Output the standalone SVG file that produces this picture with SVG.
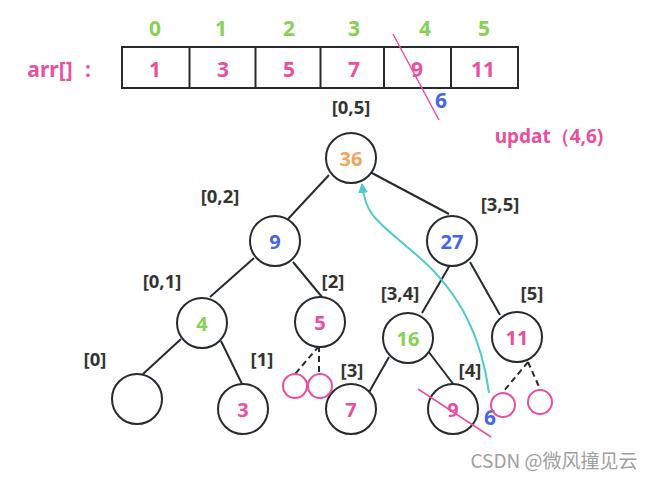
<svg xmlns="http://www.w3.org/2000/svg" width="653" height="478" viewBox="0 0 653 478">
<defs>
<style>
text{font-family:"Noto Sans","Open Sans","DejaVu Sans",sans-serif;font-weight:bold;text-anchor:middle}
.a{font-size:21px}
.n{font-size:20px}
.lb{font-size:18.5px;fill:#333}
.pk{fill:#E8509E}.gr{fill:#86D251}.bl{fill:#4565E6}.or{fill:#F2A35E}
.c{fill:#fff;stroke:#262B30;stroke-width:2}
.sc{fill:none;stroke:#E8509E;stroke-width:2}
.e{stroke:#262B30;stroke-width:2;fill:none}
.d{stroke:#262B30;stroke-width:2;fill:none;stroke-dasharray:6 4}
</style>
<marker id="ah" markerWidth="10" markerHeight="10" refX="9" refY="5" orient="auto" markerUnits="userSpaceOnUse">
<path d="M0,0 L10,5 L0,10 Z" fill="#4ECBCC"/>
</marker>
</defs>
<rect width="653" height="478" fill="#fff"/>
<g id="array">
<text class="a pk" x="50" y="77">arr[]</text>
<text class="a pk" x="88" y="77">:</text>
<g class="a gr">
<text x="155" y="36">0</text><text x="221" y="36">1</text><text x="289" y="36">2</text><text x="354" y="36">3</text><text x="425" y="36">4</text><text x="484" y="36">5</text>
</g>
<rect x="122" y="47" width="396" height="41" fill="none" stroke="#262B30" stroke-width="2"/>
<path class="e" d="M189.5 47V88M255.5 47V88M320.5 47V88M384 47V88M451 47V88"/>
<g class="a pk">
<text x="155" y="77">1</text><text x="223" y="77">3</text><text x="289" y="77">5</text><text x="354" y="77">7</text><text x="417" y="77">9</text><text x="483" y="77">11</text>
</g>
<line x1="393" y1="34" x2="439" y2="120" stroke="#E8509E" stroke-width="1.5"/>
<text class="a bl" x="441" y="108">6</text>
</g>
<text class="lb" x="351" y="114">[0,5]</text>
<text class="pk" style="font-size:19px" x="549" y="143">updat（4,6)</text>
<g id="connectors">
<line class="e" x1="329" y1="175" x2="288" y2="219"/>
<line class="e" x1="370" y1="172" x2="449" y2="214"/>
<line class="e" x1="254" y1="258" x2="210" y2="297"/>
<line class="e" x1="293" y1="262" x2="322" y2="297"/>
<line class="e" x1="450" y1="265" x2="422" y2="313"/>
<line class="e" x1="470" y1="262" x2="500" y2="315"/>
<line class="e" x1="181" y1="339" x2="143" y2="374"/>
<line class="e" x1="221" y1="341" x2="242" y2="384"/>
<line class="e" x1="389" y1="357" x2="368" y2="394"/>
<line class="e" x1="428" y1="351" x2="454" y2="385"/>
<path class="d" d="M319 346L295 374M319 346V374"/>
<path class="d" d="M528 362L503 392M528 362L540 389"/>
<path d="M489 393C482 340 462 295 420 258S366 218 362 184" fill="none" stroke="#4ECBCC" stroke-width="2" marker-end="url(#ah)"/>
</g>
<g id="n36"><circle class="c" cx="351" cy="158" r="25"/><text class="n or" x="351" y="166">36</text></g>
<g id="n9"><circle class="c" cx="275" cy="241" r="25"/><text class="n bl" x="275" y="249">9</text></g>
<g id="n27"><circle class="c" cx="452" cy="241" r="25"/><text class="n bl" x="452" y="249">27</text></g>
<g id="n4"><circle class="c" cx="202" cy="323" r="25"/><text class="n gr" x="202" y="331">4</text></g>
<g id="n5"><circle class="c" cx="320" cy="322" r="25"/><text class="n pk" x="320" y="330">5</text></g>
<g id="n16"><circle class="c" cx="408" cy="338" r="25"/><text class="n gr" x="408" y="346">16</text></g>
<g id="n11"><circle class="c" cx="517" cy="337" r="25"/><text class="n pk" x="517" y="345">11</text></g>
<g id="n0"><circle class="c" cx="137" cy="399" r="25"/></g>
<g id="n3"><circle class="c" cx="243" cy="409" r="25"/><text class="n pk" x="243" y="417">3</text></g>
<g id="n7"><circle class="c" cx="351" cy="409" r="25"/><text class="n pk" x="351" y="417">7</text></g>
<g id="n9b"><circle class="c" cx="453" cy="409" r="25"/><text class="n pk" x="453" y="417">9</text>
<line x1="418" y1="389" x2="491" y2="437" stroke="#E8509E" stroke-width="1.5"/>
<text class="a bl" x="490" y="425">6</text></g>
<g id="small">
<circle class="sc" cx="295" cy="386" r="12"/><circle class="sc" cx="320" cy="386" r="12"/>
<circle class="sc" cx="503" cy="405" r="12"/><circle class="sc" cx="540" cy="402" r="12"/>
</g>
<g id="labels" class="lb">
<text x="220" y="203">[0,2]</text>
<text x="500" y="211">[3,5]</text>
<text x="162" y="288">[0,1]</text>
<text x="333" y="288">[2]</text>
<text x="400" y="300">[3,4]</text>
<text x="532" y="300">[5]</text>
<text x="95" y="366">[0]</text>
<text x="262" y="366">[1]</text>
<text x="352" y="377">[3]</text>
<text x="470" y="377">[4]</text>
</g>
<text x="554" y="468" style="font-family:'Noto Sans CJK SC',sans-serif;font-weight:normal;font-size:19px;fill:#A0A0A0">CSDN @微风撞见云</text>
</svg>
